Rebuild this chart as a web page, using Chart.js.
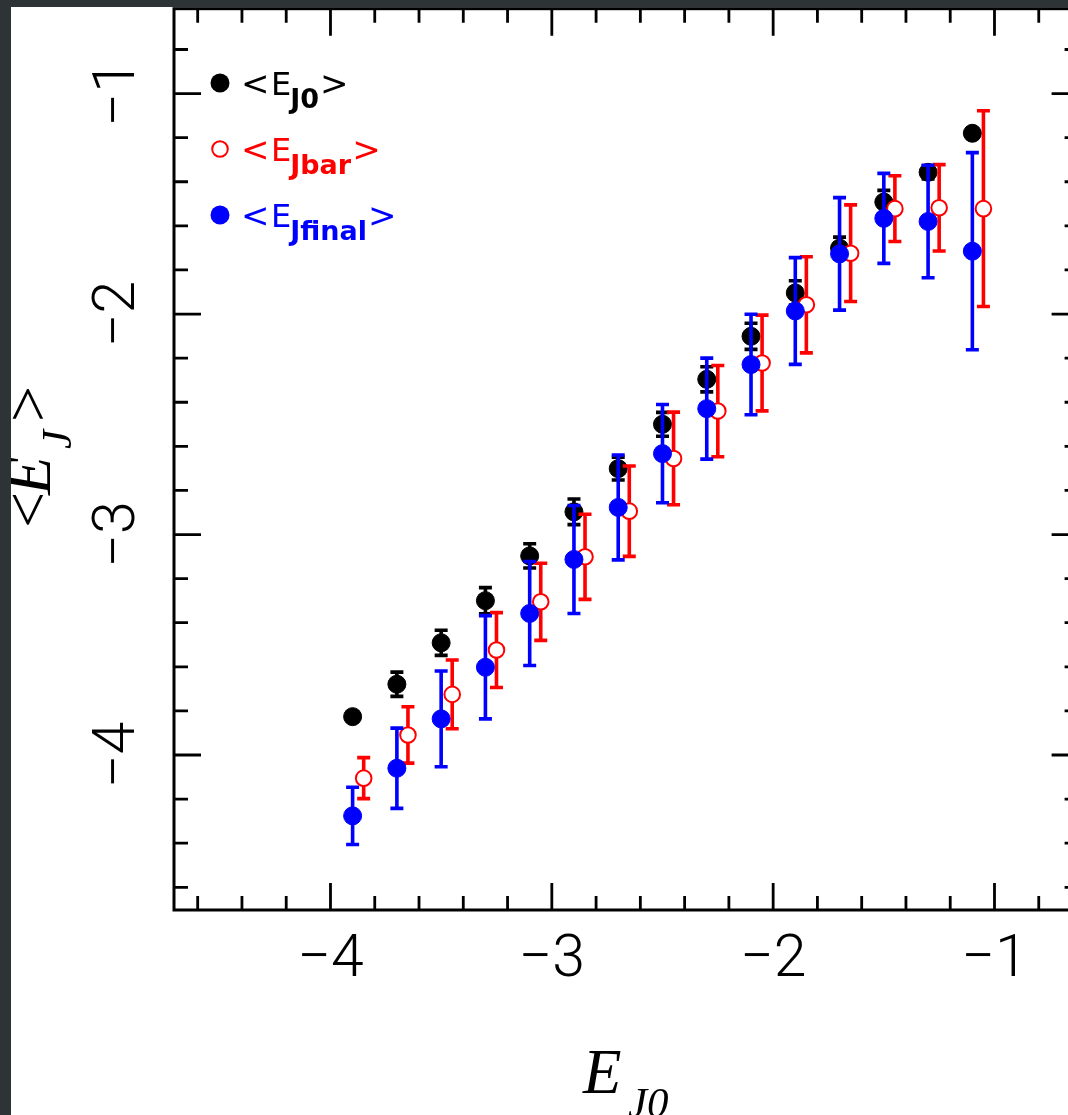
<!DOCTYPE html>
<html>
<head>
<meta charset="utf-8">
<title>&lt;E_J&gt; vs E_J0</title>
<script src="https://cdn.jsdelivr.net/npm/chart.js@4.4.1/dist/chart.umd.min.js"></script>
<style>
  html, body { margin: 0; padding: 0; overflow: hidden; background: #2e3436; width: 1068px; height: 1115px; }
  #wrap { position: absolute; left: 11px; top: 7px; width: 1080px; height: 1108px; background: #fff; }
</style>
</head>
<body>
<div id="wrap"><canvas id="ejChart" width="1080" height="1108"></canvas></div>
<script>
// bin centres (black + blue) and the slightly shifted red ones
const binX  = [-3.9, -3.7, -3.5, -3.3, -3.1, -2.9, -2.7, -2.5, -2.3, -2.1, -1.9, -1.7, -1.5, -1.3, -1.1];
const jbarX = [-3.85, -3.65, -3.45, -3.25, -3.05, -2.85, -2.65, -2.45, -2.25, -2.05, -1.85, -1.65, -1.45, -1.25, -1.05];

const ej0Mean = [-3.826, -3.679, -3.491, -3.300, -3.097, -2.897, -2.701, -2.500, -2.296, -2.101, -1.904, -1.701, -1.492, -1.357, -1.180];
const ej0Err  = [0, 0.055, 0.057, 0.059, 0.055, 0.058, 0.052, 0.054, 0.057, 0.059, 0.055, 0.05, 0.053, 0.03, 0];

const jbarMean = [-4.105, -3.909, -3.725, -3.524, -3.305, -3.101, -2.894, -2.655, -2.440, -2.222, -1.958, -1.724, -1.522, -1.518, -1.522];
const jbarErr  = [0.093, 0.128, 0.156, 0.170, 0.175, 0.193, 0.205, 0.210, 0.207, 0.217, 0.218, 0.219, 0.149, 0.196, 0.444];

const jfinalMean = [-4.276, -4.060, -3.836, -3.602, -3.358, -3.113, -2.877, -2.633, -2.429, -2.229, -1.986, -1.727, -1.566, -1.580, -1.715];
const jfinalErr  = [0.130, 0.182, 0.217, 0.234, 0.236, 0.245, 0.238, 0.223, 0.229, 0.228, 0.242, 0.255, 0.204, 0.255, 0.447];

const majorTicks = [-4, -3, -2, -1];
const minorTicks = [-4.6, -4.4, -4.2, -3.8, -3.6, -3.4, -3.2, -2.8, -2.6, -2.4, -2.2,
                    -1.8, -1.6, -1.4, -1.2, -0.8];

const RED = '#ff0000';
const BLUE = '#0000ff';

const pts = (xs, ys) => xs.map((x, i) => ({ x: x, y: ys[i] }));

// vertical error bars, drawn just before the points of each dataset
const errorBars = {
  id: 'errorBars',
  beforeDatasetDraw(chart, args) {
    const ds = chart.data.datasets[args.index];
    if (!ds.errors) return;
    const xs = chart.scales.x, ys = chart.scales.y, ctx = chart.ctx;
    ctx.save();
    ctx.strokeStyle = ds.borderColor;
    ctx.lineWidth = 3.6;
    ds.data.forEach((p, i) => {
      const e = ds.errors[i];
      if (!e) return;
      const px = xs.getPixelForValue(p.x);
      const top = ys.getPixelForValue(p.y + e);
      const bot = ys.getPixelForValue(p.y - e);
      ctx.beginPath();
      ctx.moveTo(px, top); ctx.lineTo(px, bot);
      ctx.moveTo(px - 6.5, top); ctx.lineTo(px + 6.5, top);
      ctx.moveTo(px - 6.5, bot); ctx.lineTo(px + 6.5, bot);
      ctx.stroke();
    });
    ctx.restore();
  }
};

// box with inward ticks on all four sides
const frame = {
  id: 'frame',
  beforeDatasetsDraw(chart) {
    const { ctx, chartArea: a } = chart;
    const xs = chart.scales.x, ys = chart.scales.y;
    ctx.save();
    ctx.strokeStyle = '#000';
    ctx.lineWidth = 3;
    ctx.strokeRect(a.left, a.top, a.right - a.left, a.bottom - a.top);
    ctx.lineWidth = 2.8;
    ctx.beginPath();
    const tick = (v, len) => {
      const px = xs.getPixelForValue(v);
      ctx.moveTo(px, a.bottom); ctx.lineTo(px, a.bottom - len);
      ctx.moveTo(px, a.top); ctx.lineTo(px, a.top + len);
      const py = ys.getPixelForValue(v);
      ctx.moveTo(a.left, py); ctx.lineTo(a.left + len, py);
      ctx.moveTo(a.right, py); ctx.lineTo(a.right - len, py);
    };
    majorTicks.forEach(v => tick(v, 27));
    minorTicks.forEach(v => tick(v, 14));
    ctx.stroke();
    ctx.restore();
  }
};

// axis titles and the legend (need subscripts, so drawn by hand)
const labels = {
  id: 'labels',
  afterDraw(chart) {
    const ctx = chart.ctx;
    ctx.save();
    ctx.fillStyle = '#000';
    ctx.textBaseline = 'alphabetic';
    ctx.textAlign = 'left';

    // x title: E_J0
    ctx.font = 'italic 63px "Liberation Serif"';
    ctx.fillText('E', 572, 1086);
    ctx.font = 'italic 43px "Liberation Serif"';
    ctx.fillText('J0', 617, 1110);

    // y title: <E_J>, rotated
    ctx.translate(39, 518);
    ctx.rotate(-Math.PI / 2);
    ctx.font = '64px "Liberation Serif"';
    ctx.fillText('<', -3, -1);
    ctx.font = 'italic 63px "Liberation Serif"';
    ctx.fillText('E', 30, 0);
    ctx.font = 'italic 43px "Liberation Serif"';
    ctx.fillText('J', 76, 21);
    ctx.font = '64px "Liberation Serif"';
    ctx.fillText('>', 103, -1);
    ctx.setTransform(1, 0, 0, 1, 0, 0);

    // legend
    const rows = [
      { color: '#000', filled: true,  sub: 'J0' },
      { color: RED,    filled: false, sub: 'Jbar' },
      { color: BLUE,   filled: true,  sub: 'Jfinal' }
    ];
    rows.forEach((r, i) => {
      const cy = 76 + i * 66;
      ctx.beginPath();
      if (r.filled) {
        ctx.fillStyle = r.color;
        ctx.arc(209, cy, 9.5, 0, Math.PI * 2);
        ctx.fill();
      } else {
        ctx.strokeStyle = r.color;
        ctx.lineWidth = 2;
        ctx.arc(209, cy, 7.8, 0, Math.PI * 2);
        ctx.stroke();
      }
      ctx.fillStyle = r.color;
      const base = cy + 12;
      ctx.font = '34px "DejaVu Sans"';
      ctx.fillText('<', 230, base);
      ctx.font = '32px "DejaVu Sans"';
      ctx.fillText('E', 260, base);
      let x = 260 + ctx.measureText('E').width - 1;
      ctx.font = 'bold 27px "DejaVu Sans"';
      ctx.fillText(r.sub, x, base + 13);
      x += ctx.measureText(r.sub).width + 1;
      ctx.font = '34px "DejaVu Sans"';
      ctx.fillText('>', x, base);
    });
    ctx.restore();
  }
};

const tickFont = { family: 'Roboto', size: 59, weight: 300, lineHeight: 1.2 };
const minus = v => '\u2212' + Math.abs(v);
const noPad = s => { s.paddingLeft = 0; s.paddingRight = 0; s.paddingTop = 0; s.paddingBottom = 0; };

new Chart(document.getElementById('ejChart'), {
  type: 'scatter',
  data: {
    datasets: [
      {
        label: '<E_J0>',
        data: pts(binX, ej0Mean),
        errors: ej0Err,
        borderColor: '#000',
        backgroundColor: '#000',
        pointRadius: 9,
        pointBorderWidth: 1,
        order: 3
      },
      {
        label: '<E_Jbar>',
        data: pts(jbarX, jbarMean),
        errors: jbarErr,
        borderColor: RED,
        backgroundColor: '#fff',
        pointRadius: 7.8,
        pointBorderWidth: 2,
        order: 2
      },
      {
        label: '<E_Jfinal>',
        data: pts(binX, jfinalMean),
        errors: jfinalErr,
        borderColor: BLUE,
        backgroundColor: BLUE,
        pointRadius: 9,
        pointBorderWidth: 1,
        order: 1
      }
    ]
  },
  options: {
    responsive: false,
    animation: false,
    events: [],
    layout: { autoPadding: false, padding: { top: 1.7, left: 0, right: 12.4, bottom: 0 } },
    plugins: { legend: { display: false }, tooltip: { enabled: false } },
    scales: {
      x: {
        type: 'linear',
        min: -4.707,
        max: -0.62,
        grid: { display: false, drawTicks: false },
        border: { display: false },
        afterBuildTicks: s => { s.ticks = majorTicks.map(v => ({ value: v })); },
        afterFit: s => { s.height = 205; noPad(s); },
        ticks: {
          font: tickFont,
          color: '#000',
          padding: 16,
          maxRotation: 0,
          autoSkip: false,
          includeBounds: false,
          callback: minus
        }
      },
      y: {
        type: 'linear',
        min: -4.703,
        max: -0.615,
        grid: { display: false, drawTicks: false },
        border: { display: false },
        afterBuildTicks: s => { s.ticks = majorTicks.map(v => ({ value: v })); },
        afterFit: s => { s.width = 163; noPad(s); },
        ticks: {
          font: tickFont,
          color: '#000',
          padding: 22,
          minRotation: 90,
          maxRotation: 90,
          crossAlign: 'center',
          autoSkip: false,
          includeBounds: false,
          callback: minus
        }
      }
    }
  },
  plugins: [frame, errorBars, labels]
});
</script>
</body>
</html>
